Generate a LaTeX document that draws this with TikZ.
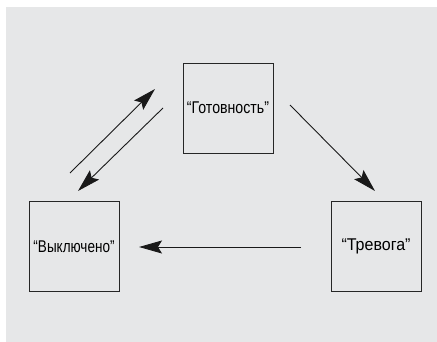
\documentclass[tikz,border=0pt]{standalone}
\usepackage{fontspec}
\setmainfont{Liberation Sans}
\usetikzlibrary{arrows.meta}
\definecolor{bggray}{HTML}{E6E7E8}
\tikzset{
  statebox/.style={draw=black!85, line width=0.9pt, minimum width=90pt, minimum height=90pt, inner sep=0pt, font=\fontsize{17}{20}\selectfont},
  trans/.style={draw=black!90, line width=0.9pt, -{Stealth[length=23pt, width=13pt, inset=4pt]}}
}
\begin{document}
\begin{tikzpicture}[x=1pt,y=-1pt]
\useasboundingbox (0,0) rectangle (437,342);
\fill[bggray] (6,7) rectangle (437,342);
\node[statebox] (ready) at (228,108) {\resizebox{82pt}{\height}{“Готовность”}};
\node[statebox] (off) at (74,246.5) {\resizebox{81pt}{\height}{“Выключено”}};
\node[statebox] (alarm) at (376,246) {\resizebox{69pt}{\height}{“Тревога”}};
\coordinate (a1s) at (70,173);
\coordinate (a1e) at (155,89);
\coordinate (a2s) at (163,108);
\coordinate (a2e) at (78,191);
\coordinate (a3s) at (290,105);
\coordinate (a3e) at (375,191);
\coordinate (a4s) at (301,247);
\coordinate (a4e) at (139,247);
\draw[trans] (a1s) -- (a1e);
\draw[trans] (a2s) -- (a2e);
\draw[trans] (a3s) -- (a3e);
\draw[trans] (a4s) -- (a4e);
\end{tikzpicture}
\end{document}
